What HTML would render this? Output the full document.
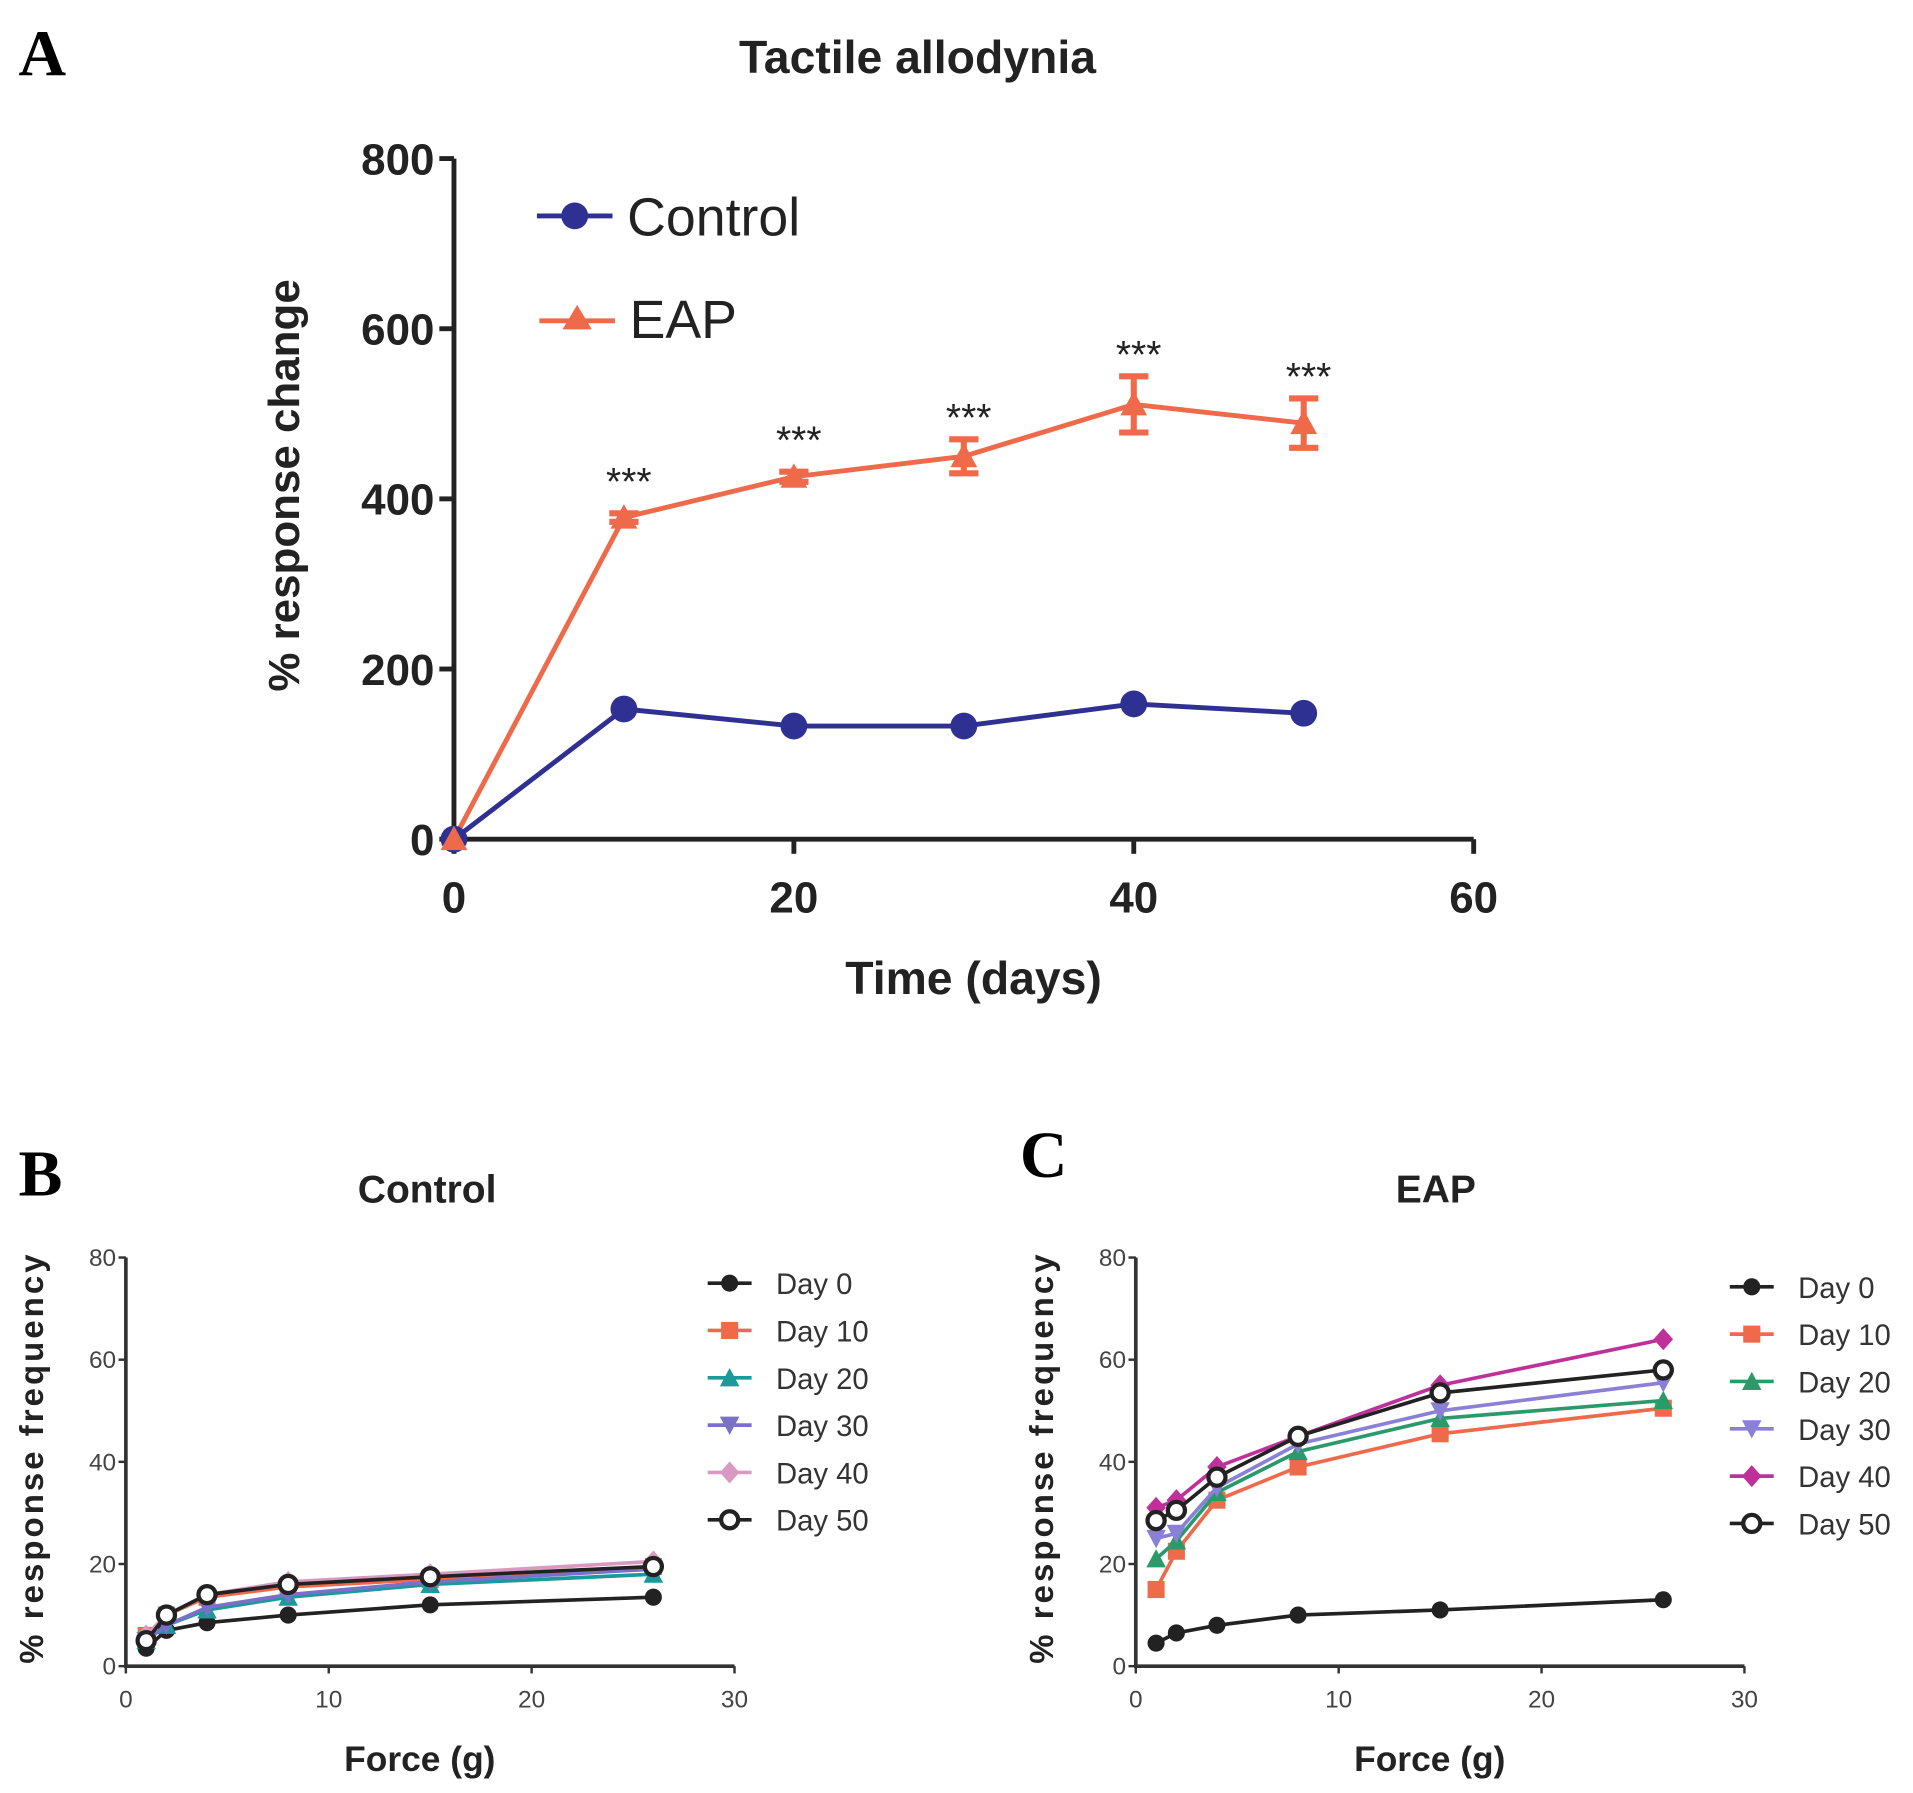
<!DOCTYPE html>
<html><head><meta charset="utf-8"><style>
html,body{margin:0;padding:0;background:#fff}
svg{display:block}
text{font-family:"Liberation Sans",sans-serif}
</style></head><body>
<svg id="fig" width="1913" height="1793" viewBox="0 0 1568 1470" xmlns="http://www.w3.org/2000/svg">
<g id="gA"></g>
<g id="gB"></g>
<g id="gC"></g>
</svg>
<script>
// Panel A data
const daysA = [0,10,20,30,40,50];
const controlA = [0,153,133,133,159,148];
const eapA = [0,378,426,450,511,489];
const eapErr = [0,5,6,20,33,29];
const yTicksA = [0,200,400,600,800];
const xTicksA = [0,20,40,60];
// Panels B & C data
const forces = [1,2,4,8,15,26];
const dayLabels = ["Day 0","Day 10","Day 20","Day 30","Day 40","Day 50"];
const ctrlDay0 = [3.5,7,8.5,10,12,13.5];
const ctrlDay10 = [6,10,13.5,15.5,17,19.5];
const ctrlDay20 = [5,8,11,13.5,16,18];
const ctrlDay30 = [5,8,11.5,14,16.5,19];
const ctrlDay40 = [6,10,14,16.5,18,20.5];
const ctrlDay50 = [5,10,14,16,17.5,19.5];
const eapDay0 = [4.5,6.5,8,10,11,13];
const eapDay10 = [15,22.5,32.5,39,45.5,50.5];
const eapDay20 = [21,24.5,34,42,48.5,52];
const eapDay30 = [25,26,35,43.5,50,55.5];
const eapDay40 = [31,32.5,39,45,55,64];
const eapDay50 = [28.5,30.5,37,45,53.5,58];
const yTicksBC = [0,20,40,60,80];
const xTicksBC = [0,10,20,30];

const NS="http://www.w3.org/2000/svg";
function mk(parent,tag,attrs,txt){const e=document.createElementNS(NS,tag);for(const k in attrs)e.setAttribute(k,attrs[k]);if(txt!==undefined)e.textContent=txt;parent.appendChild(e);return e;}
const SERIF='font-family:"Liberation Serif",serif';

// ---- Panel A ----
const A=document.getElementById('gA');
const xA=v=>372+v/60*(1208-372);
const yA=v=>688-v/800*(688-130);
let t;
t=mk(A,'text',{x:15,y:62,style:SERIF,'font-weight':'bold','font-size':54},'A');


t=mk(A,'text',{x:752,y:60,'text-anchor':'middle','font-weight':'bold','font-size':38,fill:'#222'},'Tactile allodynia');


let ax=mk(A,'path',{d:`M${xA(0)},${yA(800)} V${yA(0)} H${xA(60)}`,stroke:'#222','stroke-width':4,fill:'none'});


yTicksA.forEach(v=>{
  mk(A,'line',{x1:xA(0)-12,x2:xA(0),y1:yA(v),y2:yA(v),stroke:'#222','stroke-width':4});
  const e=mk(A,'text',{x:xA(0)-16,y:yA(v)+13,'text-anchor':'end','font-weight':'bold','font-size':36,fill:'#222'},v);
  
  
});
xTicksA.forEach(v=>{
  mk(A,'line',{x1:xA(v),x2:xA(v),y1:yA(0),y2:yA(0)+12,stroke:'#222','stroke-width':4});
  const e=mk(A,'text',{x:xA(v),y:748,'text-anchor':'middle','font-weight':'bold','font-size':36,fill:'#222'},v);
  
  
});
t=mk(A,'text',{x:798,y:815,'text-anchor':'middle','font-weight':'bold','font-size':38,fill:'#222'},'Time (days)');


t=mk(A,'text',{transform:'translate(245,398) rotate(-90)','text-anchor':'middle','font-weight':'bold','font-size':36,fill:'#222'},'% response change');


daysA.forEach((d,i)=>{
  if(eapErr[i]<=0)return;
  const x=xA(d),y1=yA(eapA[i]+eapErr[i]),y2=yA(eapA[i]-eapErr[i]);
  const e=mk(A,'path',{d:`M${x},${y1}V${y2}M${x-12},${y1}H${x+12}M${x-12},${y2}H${x+12}`,stroke:'#ee6a4a','stroke-width':5,fill:'none'});
  
  
});
let p=mk(A,'polyline',{points:daysA.map((d,i)=>xA(d)+','+yA(eapA[i])).join(' '),stroke:'#ee6a4a','stroke-width':4,fill:'none'});


p=mk(A,'polyline',{points:daysA.map((d,i)=>xA(d)+','+yA(controlA[i])).join(' '),stroke:'#2e3192','stroke-width':4,fill:'none'});


daysA.forEach((d,i)=>{
  const c=mk(A,'circle',{cx:xA(d),cy:yA(controlA[i]),r:11,fill:'#2e3192'});
  
  
  const x=xA(d),y=yA(eapA[i]);
  const tr=mk(A,'polygon',{points:`${x},${y-11} ${x-11},${y+9} ${x+11},${y+9}`,fill:'#ee6a4a'});
  
  
  if(i>0){
    const s=mk(A,'text',{x:x+4,y:yA(eapA[i]+eapErr[i])-7+(eapErr[i]<10?-8:0),'text-anchor':'middle','font-size':32,fill:'#222'},'***');
    
    
  }
});
let lg=mk(A,'g',{});


mk(lg,'line',{x1:440,x2:502,y1:177,y2:177,stroke:'#2e3192','stroke-width':4});
mk(lg,'circle',{cx:471,cy:177,r:11,fill:'#2e3192'});
t=mk(lg,'text',{x:514,y:193,'font-size':44,fill:'#222'},'Control');


mk(lg,'line',{x1:442,x2:504,y1:263,y2:263,stroke:'#ee6a4a','stroke-width':4});
mk(lg,'polygon',{points:'473,250 461,270 485,270',fill:'#ee6a4a'});
t=mk(lg,'text',{x:516,y:277,'font-size':44,fill:'#222'},'EAP');



// ---- Panels B, C ----
function marker(g,shape,x,y,col){
  let e;
  if(shape==='circle')e=mk(g,'circle',{cx:x,cy:y,r:7,fill:col});
  else if(shape==='square')e=mk(g,'rect',{x:x-7,y:y-7,width:14,height:14,fill:col});
  else if(shape==='tri')e=mk(g,'polygon',{points:`${x},${y-8} ${x-8},${y+7} ${x+8},${y+7}`,fill:col});
  else if(shape==='tridown')e=mk(g,'polygon',{points:`${x},${y+8} ${x-8},${y-7} ${x+8},${y-7}`,fill:col});
  else if(shape==='diamond')e=mk(g,'polygon',{points:`${x},${y-9} ${x+8},${y} ${x},${y+9} ${x-8},${y}`,fill:col});
  else e=mk(g,'circle',{cx:x,cy:y,r:7,fill:'#fff',stroke:col,'stroke-width':3.5});
  
  
}
const shapes=['circle','square','tri','tridown','diamond','open'];
function panel(id,ox,letter,lx,ly,title,tx,series,colors,legX,legY0){
  const G=document.getElementById(id);
  const x0=ox,x1=ox+499,yb=1366,yt=1031;
  const X=v=>x0+v/30*(x1-x0), Y=v=>yb-v/80*(yb-yt);
  let e=mk(G,'text',{x:lx,y:ly,style:SERIF,'font-weight':'bold','font-size':54},letter);
  
  
  e=mk(G,'text',{x:tx,y:986,'text-anchor':'middle','font-weight':'bold','font-size':32,fill:'#222'},title);
  
  
  e=mk(G,'path',{d:`M${x0},${yt}V${yb}H${x1}`,stroke:'#333','stroke-width':3,fill:'none'});
  
  
  yTicksBC.forEach(v=>{
    mk(G,'line',{x1:x0-6,x2:x0,y1:Y(v),y2:Y(v),stroke:'#333','stroke-width':2});
    const t=mk(G,'text',{x:x0-8,y:Y(v)+7,'text-anchor':'end','font-size':20,fill:'#444'},v);
    
    
  });
  xTicksBC.forEach(v=>{
    mk(G,'line',{x1:X(v),x2:X(v),y1:yb,y2:yb+6,stroke:'#333','stroke-width':2});
    const t=mk(G,'text',{x:X(v),y:1400,'text-anchor':'middle','font-size':20,fill:'#444'},v);
    
    
  });
  e=mk(G,'text',{x:ox+241,y:1452,'text-anchor':'middle','font-weight':'bold','font-size':29,fill:'#222'},'Force (g)');
  
  
  e=mk(G,'text',{transform:`translate(${ox-68},1195) rotate(-90)`,'text-anchor':'middle','font-weight':'bold','font-size':27,'letter-spacing':2.5,fill:'#222'},'% response frequency');
  
  
  series.forEach((s,k)=>{
    const col=colors[k];
    const l=mk(G,'polyline',{points:forces.map((f,i)=>X(f)+','+Y(s[i])).join(' '),stroke:col,'stroke-width':3,fill:'none'});
    
    
    forces.forEach((f,i)=>marker(G,shapes[k],X(f),Y(s[i]),col));
    const ly2=legY0+k*38.8;
    const lg=mk(G,'g',{});
    
    
    mk(lg,'line',{x1:legX-18,x2:legX+18,y1:ly2,y2:ly2,stroke:col,'stroke-width':3});
    marker(lg,shapes[k],legX,ly2,col);
    mk(lg,'text',{x:legX+38,y:ly2+9,'font-size':24,fill:'#333'},dayLabels[k]);
  });
}
panel('gB',103,'B',15,980,'Control',350,[ctrlDay0,ctrlDay10,ctrlDay20,ctrlDay30,ctrlDay40,ctrlDay50],['#222','#ee6a4a','#1a9a9a','#7a70c8','#d89ac0','#222'],598,1052);
panel('gC',931,'C',836,965,'EAP',1177,[eapDay0,eapDay10,eapDay20,eapDay30,eapDay40,eapDay50],['#222','#ee6a4a','#2a9a6a','#8a80d8','#c0309a','#222'],1436,1055);
</script>
</body></html>
